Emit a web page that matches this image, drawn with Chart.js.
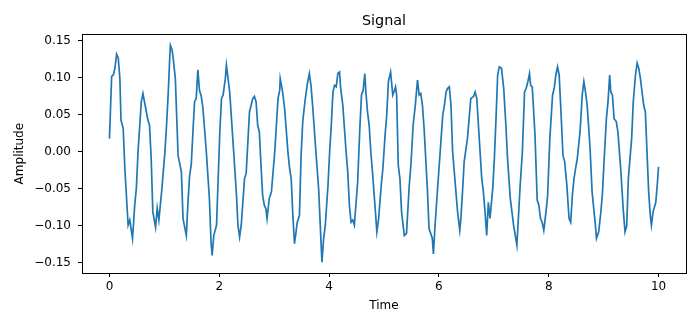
<!DOCTYPE html>
<html>
<head>
<meta charset="utf-8">
<title>Signal</title>
<script src="https://cdn.jsdelivr.net/npm/chart.js@4"></script>
<style>
  body { margin: 0; background: #fff; }
  canvas { display: block; }
</style>
</head>
<body>
<canvas id="signalChart" width="700" height="327"></canvas>
<script>
// values
const times = [
  0.00, 0.04, 0.07, 0.10, 0.13, 0.16, 0.19, 0.21, 0.25, 0.28,
  0.34, 0.37, 0.42, 0.46, 0.49, 0.52, 0.58, 0.61, 0.66, 0.70,
  0.73, 0.76, 0.79, 0.84, 0.87, 0.90, 0.95, 1.01, 1.04, 1.07,
  1.10, 1.11, 1.14, 1.16, 1.20, 1.25, 1.31, 1.34, 1.40, 1.43,
  1.46, 1.49, 1.52, 1.55, 1.58, 1.61, 1.64, 1.67, 1.70, 1.76,
  1.82, 1.85, 1.87, 1.90, 1.95, 2.01, 2.04, 2.07, 2.11, 2.13,
  2.16, 2.19, 2.25, 2.31, 2.34, 2.37, 2.40, 2.46, 2.49, 2.55,
  2.58, 2.61, 2.64, 2.67, 2.70, 2.73, 2.76, 2.79, 2.82, 2.85,
  2.87, 2.91, 2.95, 3.01, 3.07, 3.10, 3.11, 3.15, 3.19, 3.25,
  3.28, 3.31, 3.34, 3.37, 3.39, 3.42, 3.46, 3.49, 3.52, 3.56,
  3.60, 3.64, 3.67, 3.70, 3.76, 3.81, 3.85, 3.87, 3.90, 3.93,
  3.98, 4.01, 4.04, 4.07, 4.10, 4.13, 4.16, 4.19, 4.21, 4.25,
  4.31, 4.34, 4.37, 4.40, 4.43, 4.46, 4.52, 4.56, 4.59, 4.62,
  4.65, 4.67, 4.70, 4.73, 4.76, 4.79, 4.84, 4.87, 4.90, 4.95,
  4.98, 5.02, 5.05, 5.08, 5.12, 5.16, 5.19, 5.21, 5.23, 5.26,
  5.29, 5.32, 5.37, 5.41, 5.46, 5.49, 5.53, 5.57, 5.61, 5.64,
  5.67, 5.70, 5.73, 5.79, 5.82, 5.85, 5.88, 5.90, 5.93, 5.98,
  6.04, 6.07, 6.10, 6.13, 6.16, 6.19, 6.22, 6.25, 6.28, 6.34,
  6.38, 6.40, 6.43, 6.46, 6.52, 6.55, 6.58, 6.63, 6.66, 6.69,
  6.72, 6.75, 6.78, 6.81, 6.84, 6.87, 6.90, 6.93, 6.98, 7.01,
  7.04, 7.07, 7.10, 7.14, 7.18, 7.22, 7.25, 7.30, 7.33, 7.36,
  7.40, 7.42, 7.44, 7.48, 7.52, 7.56, 7.59, 7.62, 7.65, 7.67,
  7.70, 7.75, 7.79, 7.82, 7.85, 7.88, 7.91, 7.95, 7.98, 8.02,
  8.07, 8.10, 8.13, 8.16, 8.19, 8.22, 8.26, 8.29, 8.33, 8.37,
  8.40, 8.43, 8.46, 8.49, 8.52, 8.57, 8.61, 8.64, 8.67, 8.70,
  8.75, 8.79, 8.82, 8.85, 8.87, 8.91, 8.95, 8.98, 9.01, 9.05,
  9.08, 9.11, 9.13, 9.16, 9.19, 9.23, 9.26, 9.31, 9.36, 9.39,
  9.42, 9.45, 9.49, 9.51, 9.54, 9.58, 9.61, 9.64, 9.67, 9.70,
  9.73, 9.76, 9.79, 9.82, 9.85, 9.87, 9.90, 9.95, 9.98, 10.00
];

const amps = [
  0.018, 0.102, 0.104, 0.113, 0.132, 0.127, 0.099, 0.043, 0.032, -0.022,
  -0.099, -0.092, -0.117, -0.072, -0.049, 0.000, 0.068, 0.079, 0.059, 0.043,
  0.036, -0.009, -0.081, -0.102, -0.076, -0.092, -0.054, 0.000, 0.036, 0.079,
  0.131, 0.144, 0.138, 0.127, 0.099, -0.005, -0.027, -0.090, -0.113, -0.068,
  -0.032, -0.017, 0.027, 0.068, 0.072, 0.111, 0.083, 0.076, 0.061, 0.005,
  -0.063, -0.122, -0.140, -0.113, -0.099, 0.027, 0.072, 0.077, 0.099, 0.117,
  0.099, 0.081, 0.014, -0.054, -0.099, -0.115, -0.099, -0.036, -0.029, 0.054,
  0.063, 0.072, 0.075, 0.068, 0.036, 0.027, -0.018, -0.059, -0.072, -0.077,
  -0.090, -0.063, -0.054, 0.000, 0.072, 0.083, 0.099, 0.083, 0.059, 0.000,
  -0.022, -0.036, -0.086, -0.124, -0.113, -0.095, -0.086, -0.005, 0.041, 0.068,
  0.090, 0.106, 0.090, 0.063, 0.000, -0.050, -0.117, -0.149, -0.117, -0.100,
  -0.045, 0.000, 0.036, 0.081, 0.090, 0.088, 0.106, 0.108, 0.087, 0.063,
  0.000, -0.027, -0.072, -0.095, -0.092, -0.099, -0.041, 0.032, 0.077, 0.083,
  0.106, 0.081, 0.054, 0.036, 0.000, -0.027, -0.077, -0.108, -0.092, -0.045,
  -0.022, 0.023, 0.050, 0.095, 0.108, 0.077, 0.083, 0.088, 0.077, -0.018,
  -0.036, -0.081, -0.113, -0.110, -0.045, -0.018, 0.036, 0.063, 0.097, 0.077,
  0.079, 0.063, 0.032, -0.050, -0.104, -0.110, -0.117, -0.138, -0.099, -0.045,
  0.018, 0.050, 0.063, 0.081, 0.086, 0.088, 0.063, 0.000, -0.027, -0.081,
  -0.106, -0.090, -0.054, -0.013, 0.018, 0.045, 0.072, 0.075, 0.081, 0.072,
  0.036, 0.000, -0.036, -0.054, -0.081, -0.113, -0.068, -0.090, -0.050, -0.009,
  0.045, 0.104, 0.115, 0.113, 0.086, 0.036, -0.009, -0.063, -0.081, -0.099,
  -0.117, -0.126, -0.099, -0.045, 0.000, 0.081, 0.086, 0.095, 0.106, 0.090,
  0.088, 0.023, -0.065, -0.072, -0.090, -0.095, -0.106, -0.081, -0.059, 0.018,
  0.077, 0.086, 0.104, 0.115, 0.104, 0.059, -0.005, -0.013, -0.045, -0.090,
  -0.095, -0.059, -0.036, -0.022, -0.009, 0.027, 0.077, 0.095, 0.081, 0.063,
  0.009, -0.054, -0.077, -0.099, -0.117, -0.108, -0.081, -0.054, -0.009, 0.045,
  0.068, 0.104, 0.081, 0.077, 0.045, 0.041, 0.027, -0.022, -0.081, -0.108,
  -0.100, -0.036, 0.000, 0.018, 0.068, 0.104, 0.120, 0.113, 0.099, 0.081,
  0.063, 0.054, 0.000, -0.054, -0.086, -0.099, -0.081, -0.068, -0.041, -0.020
];

const xTicks = [0, 2, 4, 6, 8, 10];
const yTicks = [-0.15, -0.10, -0.05, 0.00, 0.05, 0.10, 0.15];

const FONT = "'DejaVu Sans', sans-serif";

// matplotlib-like frame around the plot area
const frameBox = {
  id: "frameBox",
  afterDraw(chart) {
    const { ctx, chartArea: a } = chart;
    ctx.save();
    ctx.strokeStyle = "#000";
    ctx.lineWidth = 1;
    ctx.strokeRect(Math.round(a.left) + 0.5, Math.round(a.top) + 0.5,
      Math.round(a.right - a.left), Math.round(a.bottom - a.top));
    ctx.restore();
  }
};

function renderSignal(){
  const ctx = document.getElementById("signalChart");
  const points = times.map((t, i) => ({ x: t, y: amps[i] }));

  new Chart(ctx, {
    type: "line",
    data: {
      datasets: [{
        label: "Signal",
        data: points,
        borderColor: "#1f77b4",
        borderWidth: 1.7,
        pointRadius: 0,
        tension: 0,
        fill: false
      }]
    },
    options: {
      responsive: false,
      animation: false,
      layout: { padding: { left: 0, right: 14, top: 0, bottom: 14 } },
      plugins: {
        legend: { display: false },
        tooltip: { enabled: false },
        title: {
          display: true,
          fullSize: false,
          text: "Signal",
          color: "#000",
          font: { family: FONT, size: 14.4, weight: "normal" },
          padding: { top: 13, bottom: 4 }
        }
      },
      scales: {
        x: {
          type: "linear",
          min: -0.5,
          max: 10.5,
          afterBuildTicks: s => { s.ticks = xTicks.map(v => ({ value: v })); },
          afterFit: s => { s.height = 40; },
          ticks: {
            color: "#000",
            padding: 3,
            maxRotation: 0,
            font: { family: FONT, size: 12 },
            callback: v => String(v)
          },
          grid: { drawOnChartArea: false, drawTicks: true, tickLength: 4, color: "#000" },
          border: { display: false },
          title: {
            display: true,
            text: "Time",
            color: "#000",
            font: { family: FONT, size: 12 },
            padding: { top: 0, bottom: 0 }
          }
        },
        y: {
          min: -0.1636,
          max: 0.159,
          afterBuildTicks: s => { s.ticks = yTicks.map(v => ({ value: v })); },
          afterFit: s => { s.width = 82; },
          ticks: {
            color: "#000",
            padding: 7,
            font: { family: FONT, size: 12 },
            callback: v => v.toFixed(2).replace("-", "\u2212")
          },
          grid: { drawOnChartArea: false, drawTicks: true, tickLength: 4, color: "#000" },
          border: { display: false },
          title: {
            display: true,
            text: "Amplitude",
            color: "#000",
            font: { family: FONT, size: 12 },
            padding: { top: 13, bottom: 0 }
          }
        }
      }
    },
    plugins: [frameBox]
  });
}

document.addEventListener("DOMContentLoaded", renderSignal);
</script>
</body>
</html>
